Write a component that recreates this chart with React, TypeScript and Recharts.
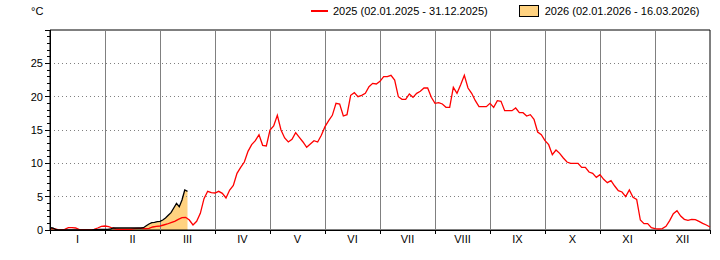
import React from "react";
import {
  ComposedChart,
  Line,
  Area,
  XAxis,
  YAxis,
  ReferenceLine,
  ReferenceArea,
} from "recharts";

// month labels (equal-width months on the x axis)
const monthLabels = ["I", "II", "III", "IV", "V", "VI", "VII", "VIII", "IX", "X", "XI", "XII"];

// 2025 daily mean, sampled 15 times per month (°C)
const jan2025 = [0.2, 0.2, 0.1, 0.05, 0.1, 0.35, 0.35, 0.3, 0.05, 0.05, 0.05, 0.05, 0.1, 0.3, 0.55];
const feb2025 = [0.6, 0.5, 0.3, 0.15, 0.1, 0.1, 0.1, 0.1, 0.2, 0.25, 0.25, 0.2, 0.25, 0.45, 0.55];
const mar2025 = [0.6, 0.75, 0.9, 1.1, 1.3, 1.6, 1.85, 1.9, 1.5, 0.75, 1.3, 2.5, 4.7, 5.8, 5.6];
const apr2025 = [5.55, 5.8, 5.5, 4.8, 6.0, 6.7, 8.5, 9.4, 10.2, 11.8, 12.8, 13.4, 14.3, 12.7, 12.6];
const may2025 = [15.0, 15.6, 17.2, 15.0, 13.8, 13.2, 13.6, 14.6, 13.9, 13.2, 12.4, 12.9, 13.4, 13.2, 14.2];
const jun2025 = [15.5, 16.4, 17.2, 19.0, 18.9, 17.1, 17.3, 20.2, 20.6, 20.0, 20.2, 20.5, 21.5, 22.0, 21.9];
const jul2025 = [22.3, 23.0, 23.0, 23.2, 22.5, 20.0, 19.6, 19.6, 20.4, 19.9, 20.5, 20.8, 21.3, 21.3, 19.9];
const aug2025 = [19.0, 19.1, 18.9, 18.4, 18.4, 21.4, 20.5, 21.8, 23.2, 21.3, 20.5, 19.4, 18.5, 18.5, 18.5];
const sep2025 = [19.0, 18.4, 19.4, 19.3, 17.9, 17.9, 17.9, 18.3, 17.6, 17.6, 17.1, 17.3, 16.6, 14.7, 14.3];
const oct2025 = [13.4, 12.8, 11.3, 12.0, 11.5, 10.8, 10.2, 10.0, 10.0, 10.0, 9.4, 9.4, 8.7, 8.5, 7.9];
const nov2025 = [8.3, 7.6, 7.1, 7.4, 6.6, 5.9, 5.7, 5.0, 6.0, 4.9, 4.6, 1.5, 0.95, 0.95, 0.35];
const dec2025 = [0.2, 0.15, 0.2, 0.55, 1.4, 2.45, 2.9, 2.1, 1.6, 1.45, 1.6, 1.55, 1.3, 1.0, 0.75, 0.45];

// 2026 daily mean, sampled 20 times per month, up to 16.03
const jan2026 = [0.35, 0.3, 0.1, 0.03, 0, 0, 0, 0, 0, 0, 0, 0, 0, 0, 0, 0.03, 0.05, 0.05, 0.08, 0.1];
const feb2026 = [0.1, 0.1, 0.15, 0.3, 0.3, 0.3, 0.3, 0.3, 0.3, 0.3, 0.3, 0.3, 0.3, 0.3, 0.35, 0.65, 0.9, 1.1, 1.15, 1.25];
const mar2026 = [1.3, 1.5, 1.8, 2.2, 2.6, 3.3, 4.0, 3.5, 4.5, 6.0, 5.8];

const yTicks = [0, 1, 2, 3, 4, 5, 6, 7, 8, 9, 10, 11, 12, 13, 14, 15, 16, 17, 18, 19, 20, 21, 22, 23, 24, 25, 26, 27, 28, 29, 30];
const gridValues = [5, 10, 15, 20, 25];
const monthBounds = [1, 2, 3, 4, 5, 6, 7, 8, 9, 10, 11];

const build = (months: number[][], perMonth: number) =>
  months.flatMap((vals, m) => vals.map((v, i) => ({ x: m + i / perMonth, v })));

const series2025 = build(
  [jan2025, feb2025, mar2025, apr2025, may2025, jun2025, jul2025, aug2025, sep2025, oct2025, nov2025, dec2025],
  15
);
const series2026 = build([jan2026, feb2026, mar2026], 20);

const xTicks = monthLabels.flatMap((_, i) => [i, i + 0.5]).concat([12]);

const font = "'Liberation Sans', Arial, sans-serif";

const YTick = (props: any) => {
  const { x, y, payload } = props;
  const major = payload.value % 5 === 0;
  return (
    <g>
      <line x1={x - (major ? 5 : 3)} x2={x} y1={y} y2={y} stroke="#000" shapeRendering="crispEdges" />
      {major && payload.value < 30 && (
        <text x={x - 7} y={y} dy="0.36em" textAnchor="end" fontSize={11} fontFamily={font} fill="#000">
          {payload.value}
        </text>
      )}
    </g>
  );
};

const XTick = (props: any) => {
  const { x, y, payload } = props;
  if (Number.isInteger(payload.value)) {
    return <line x1={x} x2={x} y1={y} y2={y + 4} stroke="#000" shapeRendering="crispEdges" />;
  }
  return (
    <text x={x} y={y + 13} textAnchor="middle" fontSize={11} fontFamily={font} fill="#000">
      {monthLabels[Math.floor(payload.value)]}
    </text>
  );
};

export default function App() {
  return (
    <div style={{ position: "absolute", left: 0, top: 0, width: 720, height: 260, background: "#fff" }}>
      <style>{`.recharts-reference-line line, .recharts-cartesian-axis-line, .recharts-reference-area rect { shape-rendering: crispEdges; }`}</style>
      <div style={{ position: "absolute", left: 31, top: 5, fontFamily: font, fontSize: 11 }}>°C</div>
      <div style={{ position: "absolute", left: 311, top: 5, fontFamily: font, fontSize: 11, display: "flex", alignItems: "center" }}>
        <span style={{ display: "inline-block", width: 17, height: 2, background: "#ff0000", marginRight: 5 }} />
        <span>2025 (02.01.2025 - 31.12.2025)</span>
        <span style={{ display: "inline-block", width: 18, height: 10, background: "#ffd280", border: "1px solid #000", marginLeft: 31, marginRight: 6 }} />
        <span>2026 (02.01.2026 - 16.03.2026)</span>
      </div>
      <ComposedChart width={720} height={260} margin={{ top: 30, right: 10, bottom: 0, left: 0 }}>
        <XAxis
          type="number"
          dataKey="x"
          domain={[0, 12]}
          ticks={xTicks}
          interval={0}
          tickSize={0}
          tickMargin={0}
          tick={<XTick />}
          axisLine={{ stroke: "#000" }}
          height={30}
        />
        <YAxis
          type="number"
          domain={[0, 30]}
          ticks={yTicks}
          interval={0}
          tickSize={0}
          tickMargin={0}
          tick={<YTick />}
          axisLine={{ stroke: "#000" }}
          width={50}
        />
        {gridValues.map((g) => (
          <ReferenceLine key={"h" + g} y={g} stroke="#808080" strokeDasharray="1 3" />
        ))}
        {monthBounds.map((m) => (
          <ReferenceLine key={"v" + m} x={m} stroke="#808080" />
        ))}
        <Area
          data={series2026}
          dataKey="v"
          type="linear"
          fill="#ffd280"
          fillOpacity={1}
          stroke="none"
          baseValue={0}
          isAnimationActive={false}
        />
        <Line
          data={series2025}
          dataKey="v"
          type="linear"
          stroke="#ff0000"
          strokeWidth={1.3}
          dot={false}
          isAnimationActive={false}
        />
        <Line
          data={series2026}
          dataKey="v"
          type="linear"
          stroke="#000"
          strokeWidth={1.3}
          dot={false}
          isAnimationActive={false}
        />
        <ReferenceArea x1={0} x2={12} y1={0} y2={30} fill="none" stroke="#000" strokeOpacity={1} fillOpacity={0} />
      </ComposedChart>
    </div>
  );
}
